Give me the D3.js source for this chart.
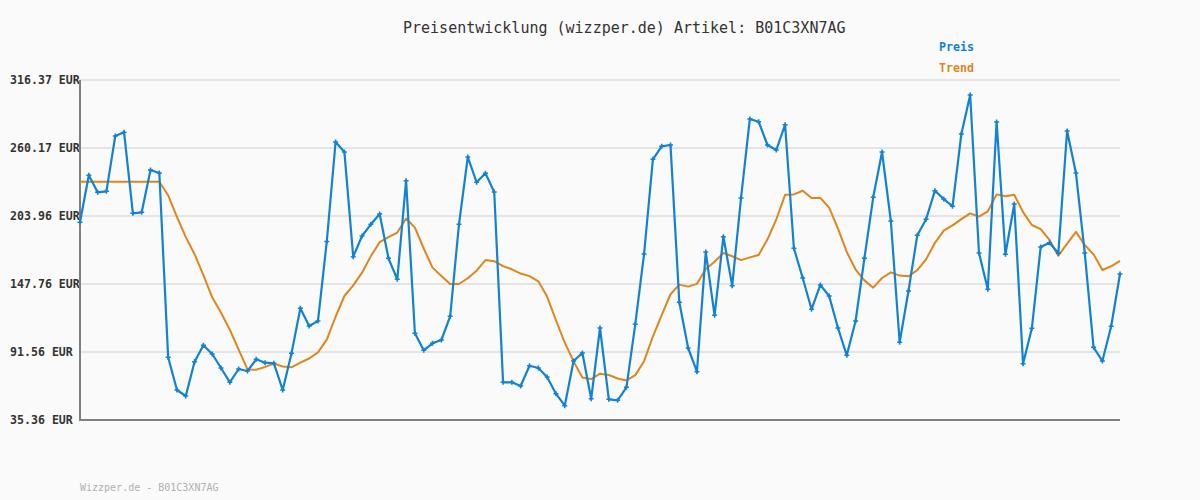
<!DOCTYPE html>
<html>
<head>
<meta charset="utf-8">
<script src="https://cdn.jsdelivr.net/npm/d3@7"></script>
<style>
  body { margin: 0; background: #fafafa; }
  svg { display: block; }
</style>
</head>
<body>
<div id="chart"></div>
<script>
// price values per day (EUR)
const preis = [
  198.76, 237.60, 223.55, 224.38, 270.09, 273.14, 206.20, 207.02, 241.98, 239.51,
  87.18, 60.15, 55.20, 83.54, 97.10, 89.91, 78.34, 66.52, 77.51, 75.86,
  85.53, 82.72, 82.22, 60.15, 90.49, 127.68, 113.05, 117.18, 182.89, 265.13,
  256.86, 170.33, 187.44, 197.11, 205.62, 169.00, 151.65, 233.14, 107.02, 92.97,
  98.75, 101.48, 121.07, 197.11, 252.73, 231.82, 239.26, 223.80, 66.52, 66.52,
  63.46, 80.24, 78.34, 70.90, 57.10, 47.18, 84.12, 90.74, 52.88, 111.40,
  52.47, 51.64, 62.39, 114.46, 172.56, 250.83, 261.57, 262.65, 132.64, 94.87,
  75.28, 174.21, 121.89, 186.86, 146.36, 218.84, 284.14, 281.90, 262.65, 258.51,
  279.43, 177.27, 152.72, 126.85, 146.94, 137.85, 111.40, 88.83, 117.18, 169.00,
  219.42, 256.86, 199.83, 99.58, 141.98, 188.01, 201.24, 224.88, 218.02, 211.98,
  271.74, 303.97, 173.39, 143.38, 281.66, 172.31, 213.88, 81.89, 111.15, 178.34,
  181.90, 173.14, 274.22, 239.51, 173.39, 95.45, 84.12, 112.80, 156.03
];

// trend line values
const trend = [
  232.22, 232.22, 232.22, 232.22, 232.22, 232.22, 232.22, 232.22, 232.22, 232.22,
  221.07, 203.32, 186.49, 172.40, 155.10, 136.78, 123.99, 109.94, 93.50, 77.13,
  76.97, 79.22, 81.93, 79.59, 78.93, 82.70, 86.17, 91.24, 101.78, 120.70,
  137.84, 146.60, 157.12, 170.82, 182.33, 186.46, 190.32, 201.92, 194.33, 177.11,
  161.30, 154.42, 147.78, 147.78, 152.49, 158.77, 167.54, 166.60, 162.55, 159.91,
  156.38, 154.25, 149.98, 137.36, 117.80, 99.33, 83.82, 70.51, 69.15, 73.64,
  72.54, 69.68, 68.08, 72.44, 83.98, 104.35, 122.09, 139.29, 147.26, 145.61,
  147.89, 160.15, 166.10, 173.34, 170.72, 167.52, 169.77, 171.70, 184.70, 201.06,
  221.48, 221.79, 224.87, 218.87, 218.93, 210.83, 193.55, 174.25, 159.70, 150.75,
  144.75, 152.71, 157.42, 154.69, 154.19, 159.21, 168.19, 181.80, 191.88, 196.18,
  201.41, 206.12, 203.48, 207.86, 221.83, 220.26, 221.52, 207.22, 196.54, 193.17,
  184.19, 171.10, 181.19, 190.80, 179.97, 172.29, 159.31, 162.40, 166.89
];

const yTicks = [35.36, 91.56, 147.76, 203.96, 260.17, 316.37];
const legendLabels = ["Preis", "Trend"];
const titleText = "Preisentwicklung (wizzper.de) Artikel: B01C3XN7AG";
const footerText = "Wizzper.de - B01C3XN7AG";

const width = 1200, height = 500;
const margin = {top: 80, right: 80, bottom: 80, left: 80};
const blue = "#1282d2", orange = "#e0861a";
const mono = "'DejaVu Sans Mono', 'Liberation Mono', monospace";

const svg = d3.select("#chart").append("svg")
    .attr("width", width)
    .attr("height", height)
    .style("background", "#fafafa");

const x = d3.scaleLinear()
    .domain([0, preis.length - 1])
    .range([margin.left, width - margin.right]);

const y = d3.scaleLinear()
    .domain([yTicks[0], yTicks[yTicks.length - 1]])
    .range([height - margin.bottom, margin.top]);

// gridlines
svg.append("g")
    .selectAll("line")
    .data(yTicks.slice(1))
    .enter().append("line")
    .attr("x1", margin.left)
    .attr("x2", width - margin.right)
    .attr("y1", d => y(d))
    .attr("y2", d => y(d))
    .attr("stroke", "#e4e4e4")
    .attr("stroke-width", 2);

// y labels (left aligned, monospace)
svg.append("g")
    .selectAll("text")
    .data(yTicks)
    .enter().append("text")
    .attr("x", 10)
    .attr("y", d => y(d) + 4)
    .text(d => d.toFixed(2) + " EUR")
    .style("font-family", mono)
    .style("font-size", "11.6px")
    .style("font-weight", "bold")
    .style("fill", "#333");

// axes frame
svg.append("path")
    .attr("d", `M${margin.left},${y(yTicks[yTicks.length - 1])}V${y(yTicks[0])}H${width - margin.right}`)
    .attr("fill", "none")
    .attr("stroke", "#808080")
    .attr("stroke-width", 2);

// trend line
svg.append("path")
    .datum(trend)
    .attr("fill", "none")
    .attr("stroke", orange)
    .attr("stroke-width", 2)
    .attr("stroke-linejoin", "round")
    .attr("d", d3.line().x((d, i) => x(i)).y(d => y(d)));

// price line
svg.append("path")
    .datum(preis)
    .attr("fill", "none")
    .attr("stroke", blue)
    .attr("stroke-width", 2.2)
    .attr("stroke-linejoin", "round")
    .attr("d", d3.line().x((d, i) => x(i)).y(d => y(d)));

// small plus markers
svg.append("g")
    .selectAll("path")
    .data(preis)
    .enter().append("path")
    .attr("d", (d, i) => `M${x(i) - 2.5},${y(d)}h5M${x(i)},${y(d) - 2.5}v5`)
    .attr("stroke", blue)
    .attr("stroke-width", 1.6);

// title
svg.append("text")
    .attr("x", 403)
    .attr("y", 33)
    .text(titleText)
    .style("font-family", mono)
    .style("font-size", "15px")
    .style("fill", "#333");

// legend
svg.append("g")
    .selectAll("text")
    .data(legendLabels)
    .enter().append("text")
    .attr("x", 939)
    .attr("y", (d, i) => 51 + i * 21)
    .text(d => d)
    .style("font-family", mono)
    .style("font-size", "11.6px")
    .style("font-weight", "bold")
    .style("fill", (d, i) => i === 0 ? blue : orange);

// footer
svg.append("text")
    .attr("x", 80)
    .attr("y", 491)
    .text(footerText)
    .style("font-family", mono)
    .style("font-size", "10px")
    .style("fill", "#b0b0b0");
</script>
</body>
</html>
